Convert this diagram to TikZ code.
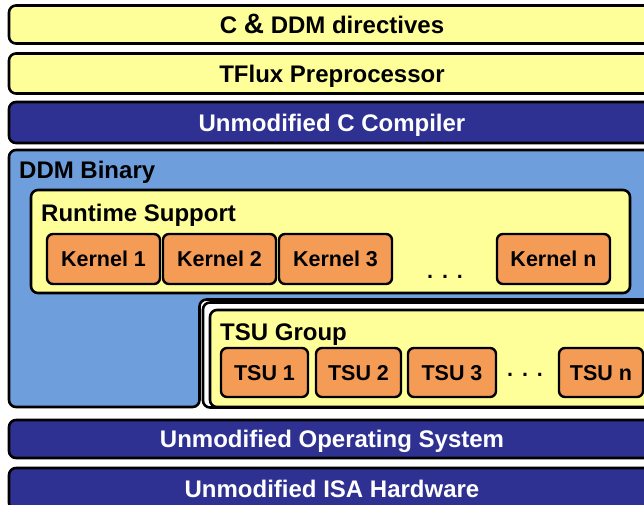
\documentclass[tikz,border=0pt]{standalone}
\usepackage{fontspec}
\setmainfont{Liberation Sans}
\definecolor{lyellow}{HTML}{FFFF99}
\definecolor{dblue}{HTML}{2E3192}
\definecolor{lblue}{HTML}{6E9EDC}
\definecolor{korange}{HTML}{F49C56}
\begin{document}
\begin{tikzpicture}[x=1pt,y=-1pt,
  box/.style={draw=black, line width=2.6pt, rounded corners=7pt, inner sep=0pt},
  bigfont/.style={font=\fontsize{24}{28}\selectfont\bfseries, text height=17.2pt, text depth=0pt},
  smallfont/.style={font=\fontsize{21.5}{25}\selectfont\bfseries, text height=15.4pt, text depth=0pt},
  ybar/.style={box, fill=lyellow, bigfont, minimum width=646pt},
  bbar/.style={box, fill=dblue, text=white, bigfont, minimum width=646pt},
  kbox/.style={box, fill=korange, smallfont, line width=2.4pt, rounded corners=6pt},
  lbl/.style={anchor=base west, inner sep=0pt, font=\fontsize{24}{28}\selectfont\bfseries},
  dots/.style={anchor=base, inner sep=0pt, font=\fontsize{21.5}{25}\selectfont\bfseries}
]
\useasboundingbox (0,0) rectangle (644,504);
\fill[white] (0,0) rectangle (644,504);

% top bars
\node[ybar, minimum height=38pt] (cddm) at (332,24.5) {C {\fontsize{28}{30}\selectfont\&} DDM directives};
\node[ybar, minimum height=40pt] (tflux) at (332,73.5) {TFlux Preprocessor};
\node[bbar, minimum height=41pt] (ccomp) at (332,122.5) {Unmodified C Compiler};

% DDM binary (L-shaped region)
\draw[line width=2.6pt, fill=lblue, rounded corners=7pt]
  (9,150) -- (720,150) -- (720,299.5) -- (199.5,299.5) -- (199.5,407) -- (9,407) -- cycle;
\node[lbl] (ddmlbl) at (19,178) {DDM Binary};

% runtime support
\node[box, fill=lyellow, minimum width=599pt, minimum height=103pt] (rts) at (330.5,241.5) {};
\node[lbl] (rtslbl) at (41,221) {Runtime Support};
\node[kbox, minimum width=113pt, minimum height=50pt] (k1) at (103.5,259) {Kernel 1};
\node[kbox, minimum width=113pt, minimum height=50pt] (k2) at (219.5,259) {Kernel 2};
\node[kbox, minimum width=113pt, minimum height=50pt] (k3) at (335.5,259) {Kernel 3};
\node[kbox, minimum width=113pt, minimum height=50pt] (kn) at (553.5,259) {Kernel n};
\node[dots] (kdots) at (445,278.5) {.\hspace{9pt}.\hspace{9pt}.};

% TSU group
\node[box, fill=white, minimum width=517pt, minimum height=105pt] (tsuframe) at (461.5,355) {};
\node[box, fill=lyellow, minimum width=510pt, minimum height=97pt] (tsug) at (465,358.5) {};
\node[lbl] (tsulbl) at (220,340) {TSU Group};
\node[kbox, minimum width=87pt, minimum height=49pt] (t1) at (264.5,372.5) {TSU 1};
\node[kbox, minimum width=85pt, minimum height=49pt] (t2) at (358.5,372.5) {TSU 2};
\node[kbox, minimum width=88pt, minimum height=49pt] (t3) at (452,372.5) {TSU 3};
\node[kbox, minimum width=84pt, minimum height=49pt] (tn) at (601,372.5) {TSU n};
\node[dots] (tdots) at (525,376.5) {.\hspace{9pt}.\hspace{9pt}.};

% bottom bars
\node[bbar, minimum height=38pt] (os) at (332,439) {Unmodified Operating System};
\node[bbar, minimum height=42pt] (isa) at (332,489) {Unmodified ISA Hardware};
\end{tikzpicture}
\end{document}
